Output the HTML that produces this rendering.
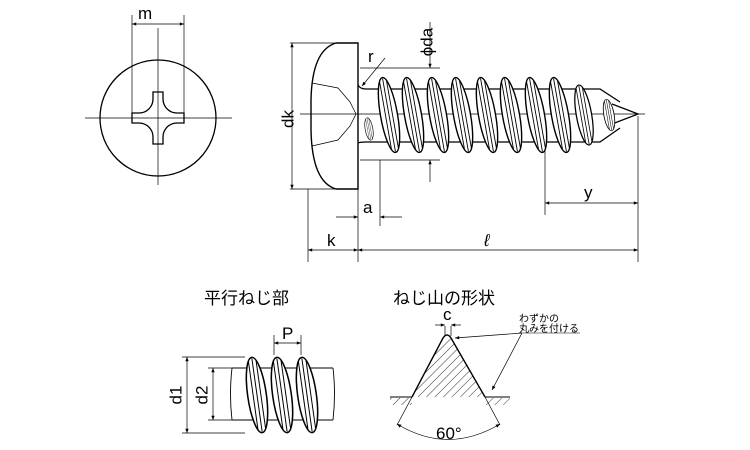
<!DOCTYPE html>
<html><head><meta charset="utf-8"><style>
html,body{margin:0;padding:0;background:#fff;}
svg{display:block;font-family:"Liberation Sans","Noto Sans CJK JP",sans-serif;}
</style></head><body>
<svg width="750" height="450" viewBox="0 0 750 450" xmlns="http://www.w3.org/2000/svg">
<defs>
<marker id="ar" viewBox="0 0 10 10" refX="10" refY="5" markerWidth="9" markerHeight="6" orient="auto-start-reverse"><path d="M0,1 L10,5 L0,9 z" fill="#000"/></marker>
<pattern id="hatch" width="6" height="6" patternUnits="userSpaceOnUse" patternTransform="rotate(45)"><line x1="0" y1="0" x2="0" y2="6" stroke="#000" stroke-width="0.8"/></pattern>
<clipPath id="tri"><path d="M412,397 L443,338 Q447,332 451,338 L485,397 Z"/></clipPath>
<g id="crest">
<ellipse cx="0" cy="0" rx="8.5" ry="38" fill="#fff" stroke="#000" stroke-width="1.4"/>
<line x1="-3.5" y1="-34" x2="-3.5" y2="34" stroke="#000" stroke-width="0.9"/>
<line x1="0" y1="-37" x2="0" y2="37" stroke="#000" stroke-width="0.9"/>
<line x1="3.5" y1="-34" x2="3.5" y2="34" stroke="#000" stroke-width="0.9"/>
</g>
</defs>
<g fill="none" stroke="#000" stroke-width="1">
<!-- left view -->
<circle cx="158" cy="118" r="58" stroke-width="1.3"/>
<line x1="85" y1="118" x2="232" y2="118" stroke-width="0.7"/>
<line x1="158" y1="28" x2="158" y2="185" stroke-width="0.7"/>
<path transform="translate(158,118)" d="M-5,-26 L5,-26 L5,-19 A14 14 0 0 0 19,-5 L26,-5 L26,5 L19,5 A14 14 0 0 0 5,19 L5,26 L-5,26 L-5,19 A14 14 0 0 0 -19,5 L-26,5 L-26,-5 L-19,-5 A14 14 0 0 0 -5,-19 Z" stroke-width="1.3"/>
<line x1="132" y1="15" x2="132" y2="113" stroke-width="0.7"/>
<line x1="184" y1="15" x2="184" y2="113" stroke-width="0.7"/>
<line x1="132" y1="24" x2="184" y2="24" marker-start="url(#ar)" marker-end="url(#ar)" stroke-width="0.7"/>
<!-- head -->
<path d="M358,43 L336,43 Q312,50 311,100 L311,130 Q312,182 336,189 L358,189 Z" stroke-width="1.4"/>
<path d="M312,83 L338,88 L350,102 L356,114 L350,126 L338,140 L312,146" stroke-width="0.7"/>
<line x1="300" y1="114" x2="645" y2="114" stroke-width="0.7"/>
<!-- shank -->
<path d="M358,85 Q360,89 366,89 L600,89 L620,102 M358,143 Q360,142 366,142 L600,142 L620,128" stroke-width="1.3"/>
<path d="M612,104 L638,114 L612,124" stroke-width="1.3"/>
</g>
<use href="#crest" transform="translate(389,115) rotate(-10)"/>
<use href="#crest" transform="translate(413,115) rotate(-10)"/>
<use href="#crest" transform="translate(438,115) rotate(-10)"/>
<use href="#crest" transform="translate(462,115) rotate(-10)"/>
<use href="#crest" transform="translate(487,115) rotate(-10)"/>
<use href="#crest" transform="translate(511,115) rotate(-10)"/>
<use href="#crest" transform="translate(536,115) rotate(-10)"/>
<use href="#crest" transform="translate(560,115) rotate(-10)"/>
<use href="#crest" transform="translate(584,115) rotate(-10) scale(0.9,0.8)"/>
<use href="#crest" transform="translate(609,115) rotate(-10) scale(0.6,0.42)"/>
<use href="#crest" transform="translate(369,129) rotate(-10) scale(0.45,0.3)"/>
<g fill="none" stroke="#000">
<!-- dims -->
<line x1="290" y1="43" x2="336" y2="43" stroke-width="0.7"/>
<line x1="290" y1="189" x2="336" y2="189" stroke-width="0.7"/>
<line x1="292" y1="43" x2="292" y2="189" marker-start="url(#ar)" marker-end="url(#ar)" stroke-width="0.7"/>
<line x1="360" y1="68" x2="440" y2="68" stroke-width="0.7"/>
<line x1="360" y1="160" x2="440" y2="160" stroke-width="0.7"/>
<line x1="430" y1="22" x2="430" y2="68" marker-end="url(#ar)" stroke-width="0.7"/>
<line x1="430" y1="182" x2="430" y2="160" marker-end="url(#ar)" stroke-width="0.7"/>
<line x1="385" y1="58" x2="362" y2="86" marker-end="url(#ar)" stroke-width="0.7"/>
<line x1="380" y1="160" x2="380" y2="226" stroke-width="0.7"/>
<line x1="336" y1="217" x2="358" y2="217" marker-end="url(#ar)" stroke-width="0.7"/>
<line x1="402" y1="217" x2="380" y2="217" marker-end="url(#ar)" stroke-width="0.7"/>
<line x1="545" y1="150" x2="545" y2="215" stroke-width="0.7"/>
<line x1="308" y1="189" x2="308" y2="262" stroke-width="0.7"/>
<line x1="358" y1="189" x2="358" y2="262" stroke-width="0.7"/>
<line x1="638" y1="116" x2="638" y2="262" stroke-width="0.7"/>
<line x1="545" y1="203" x2="638" y2="203" marker-start="url(#ar)" marker-end="url(#ar)" stroke-width="0.7"/>
<line x1="308" y1="250" x2="358" y2="250" marker-start="url(#ar)" marker-end="url(#ar)" stroke-width="0.7"/>
<line x1="358" y1="250" x2="638" y2="250" marker-start="url(#ar)" marker-end="url(#ar)" stroke-width="0.7"/>
<!-- parallel thread body -->
<path d="M232,368 L333,368 M232,420 L333,420 M232,368 Q229,394 232,420 M333,368 Q336,394 333,420" stroke-width="0.9"/>
</g>
<use href="#crest" transform="translate(257,395) rotate(-8) scale(1.1,1)"/>
<use href="#crest" transform="translate(282,395) rotate(-8) scale(1.1,1)"/>
<use href="#crest" transform="translate(307,395) rotate(-8) scale(1.1,1)"/>
<g fill="none" stroke="#000">
<line x1="182" y1="357" x2="245" y2="357" stroke-width="0.7"/>
<line x1="182" y1="433" x2="245" y2="433" stroke-width="0.7"/>
<line x1="208" y1="368" x2="235" y2="368" stroke-width="0.7"/>
<line x1="208" y1="420" x2="235" y2="420" stroke-width="0.7"/>
<line x1="187" y1="357" x2="187" y2="433" marker-start="url(#ar)" marker-end="url(#ar)" stroke-width="0.7"/>
<line x1="213" y1="368" x2="213" y2="420" marker-start="url(#ar)" marker-end="url(#ar)" stroke-width="0.7"/>
<line x1="274" y1="335" x2="274" y2="355" stroke-width="0.7"/>
<line x1="301" y1="335" x2="301" y2="355" stroke-width="0.7"/>
<line x1="274" y1="343" x2="301" y2="343" marker-start="url(#ar)" marker-end="url(#ar)" stroke-width="0.7"/>
<!-- thread profile -->
<rect x="405" y="330" width="90" height="70" fill="url(#hatch)" stroke="none" clip-path="url(#tri)"/>
<path d="M412,397 L443,338 Q447,332 451,338 L485,397" stroke-width="1.4"/>
<line x1="390" y1="397" x2="412" y2="397" stroke-width="0.9"/>
<line x1="485" y1="397" x2="510" y2="397" stroke-width="0.9"/>
<rect x="390" y="398" width="22" height="7" fill="url(#hatch)" stroke="none"/>
<rect x="485" y="398" width="25" height="7" fill="url(#hatch)" stroke="none"/>
<line x1="412" y1="397" x2="397" y2="425" stroke-width="0.7"/>
<line x1="485" y1="397" x2="500" y2="425" stroke-width="0.7"/>
<path d="M397,424 Q448,455 500,424" stroke-width="0.7" marker-start="url(#ar)" marker-end="url(#ar)"/>
<line x1="445" y1="326" x2="445" y2="336" stroke-width="0.7"/>
<line x1="451" y1="326" x2="451" y2="336" stroke-width="0.7"/>
<line x1="435" y1="325" x2="445" y2="325" marker-end="url(#ar)" stroke-width="0.7"/>
<line x1="461" y1="325" x2="451" y2="325" marker-end="url(#ar)" stroke-width="0.7"/>
<line x1="520" y1="333" x2="580" y2="333" stroke-width="0.6"/>
<line x1="522" y1="333" x2="455" y2="338" marker-end="url(#ar)" stroke-width="0.7"/>
<line x1="522" y1="333" x2="492" y2="390" marker-end="url(#ar)" stroke-width="0.7"/>
</g>
<g font-size="17" fill="#000">
<text x="138" y="19">m</text>
<text x="289" y="119" transform="rotate(-90 289 119)" text-anchor="middle" dominant-baseline="middle">dk</text>
<text x="428" y="42" transform="rotate(-90 428 42)" text-anchor="middle" dominant-baseline="middle">ϕda</text>
<text x="368" y="62">r</text>
<text x="363" y="213">a</text>
<text x="584" y="198">y</text>
<text x="327" y="246">k</text>
<text x="484" y="246" font-style="italic">ℓ</text>
<text x="282" y="339">P</text>
<text x="443" y="320">c</text>
<text x="436" y="439">60°</text>
<text x="177" y="395" transform="rotate(-90 177 395)" text-anchor="middle" dominant-baseline="middle">d1</text>
<text x="203" y="395" transform="rotate(-90 203 395)" text-anchor="middle" dominant-baseline="middle">d2</text>
<text x="204" y="304">平行ねじ部</text>
<text x="393" y="304">ねじ山の形状</text>
<text x="519" y="322" font-size="10">わずかの</text>
<text x="519" y="332" font-size="10">丸みを付ける</text>
</g>
</svg>
</body></html>
